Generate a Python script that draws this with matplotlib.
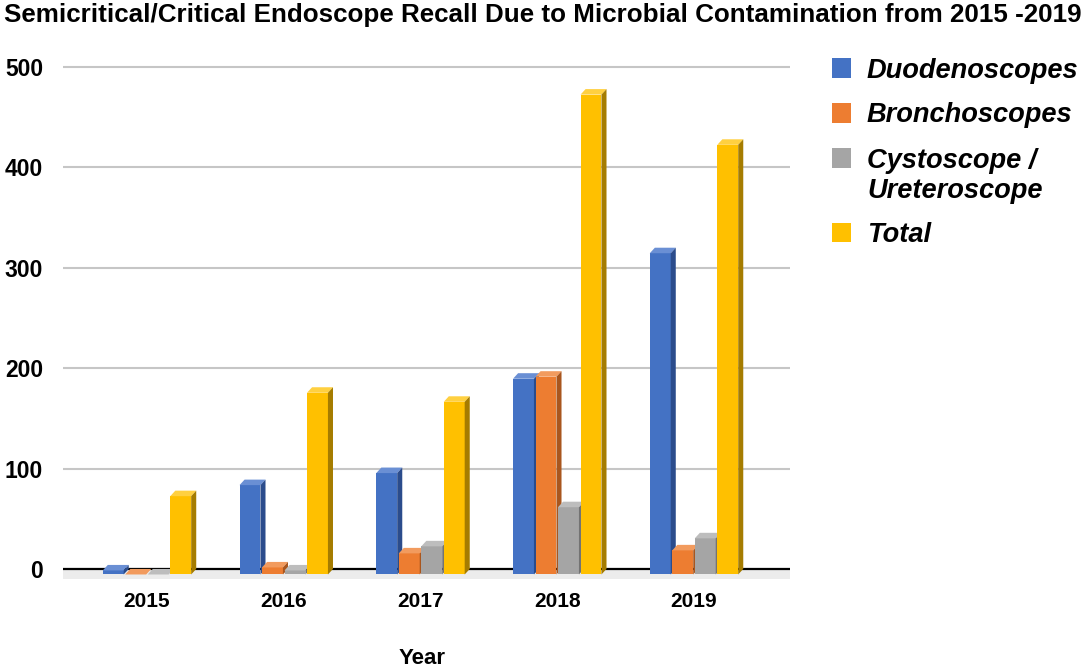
import matplotlib
matplotlib.use("Agg")
import matplotlib.pyplot as plt
from matplotlib.patches import Polygon, Rectangle
import numpy as np

plt.rcParams['font.family'] = ['Liberation Sans', 'DejaVu Sans']

years = ['2015', '2016', '2017', '2018', '2019']
series = ['Duodenoscopes', 'Bronchoscopes', 'Cystoscope /\nUreteroscope', 'Total']
duodenoscopes = [4, 89, 101, 195, 320]
bronchoscopes = [0, 7, 21, 197, 24]
cystoscopes = [0, 4, 28, 67, 36]
total = [78, 181, 172, 478, 428]

values = [duodenoscopes, bronchoscopes, cystoscopes, total]
front = ['#4472C4', '#ED7D31', '#A5A5A5', '#FFC000']
side = ['#2B4C8C', '#A9561E', '#737373', '#A57C00']
top = ['#6A8FD4', '#F29B5E', '#BDBDBD', '#FFD040']

fig = plt.figure(figsize=(10.84, 6.69), dpi=100)
ax = fig.add_axes([63 / 1084, (669 - 581) / 669, (790 - 63) / 1084, (581 - 64) / 669])

x = np.arange(len(years))
w = 0.153
step = 0.1645
dx = 0.037   # depth of the 3d look, x units
dv = 5.5     # depth of the 3d look, value units

for i, vals in enumerate(values):
    pos = x + (i - 1.5) * step
    ax.bar(pos, vals, width=w, bottom=-dv, color=front[i], zorder=3, linewidth=0)
    for p, v in zip(pos, vals):
        xl, xr = p - w / 2, p + w / 2
        ax.add_patch(Polygon([(xl, v - dv), (xl + dx, v), (xr + dx, v), (xr, v - dv)],
                             closed=True, facecolor=top[i], edgecolor='none', zorder=3))
        ax.add_patch(Polygon([(xr, v - dv), (xr + dx, v), (xr + dx, 0), (xr, -dv)],
                             closed=True, facecolor=side[i], edgecolor='none', zorder=3))

ax.set_xlim(-0.614, 4.702)
ax.set_ylim(-12, 503)

# floor of the 3d chart
ax.fill_between([-0.614, 4.702], -10, 0, color='#ececec', zorder=1, linewidth=0)
ax.axhline(0, color='black', linewidth=1.6, zorder=2)

ax.set_yticks(range(0, 501, 100))
ax.yaxis.grid(True, color='#c6c6c6', linewidth=1.5, zorder=0)
ax.set_axisbelow(True)
for s in ax.spines.values():
    s.set_visible(False)
ax.tick_params(axis='y', length=0, pad=14.4, labelsize=16.5)
ax.tick_params(axis='x', length=0, pad=7.7, labelsize=15)
ax.set_xticks(x)
ax.set_xticklabels(years, fontweight='bold')
for lab in ax.get_yticklabels():
    lab.set_fontweight('bold')

fig.text(0.004, 1 - 3 / 669, 'Semicritical/Critical Endoscope Recall Due to Microbial Contamination from 2015 -2019',
         fontsize=18.7, fontweight='bold', va='top', ha='left')
fig.text(422 / 1084, 1 - 659 / 669, 'Year', fontsize=16, fontweight='bold', ha='center', va='center')

# legend
leg_y = [68, 113, 158, 232]
for i, name in enumerate(series):
    yc = leg_y[i]
    fig.patches.append(Rectangle((832 / 1084, 1 - (yc + 9.5) / 669), 19 / 1084, 19 / 669,
                                 transform=fig.transFigure, facecolor=front[i], edgecolor='none'))
    fig.text(867 / 1084, 1 - (yc - 10.5) / 669, name, fontsize=19.6, fontweight='bold', style='italic',
             va='top', ha='left', linespacing=1.2)

fig.savefig('out.png', dpi=100)
